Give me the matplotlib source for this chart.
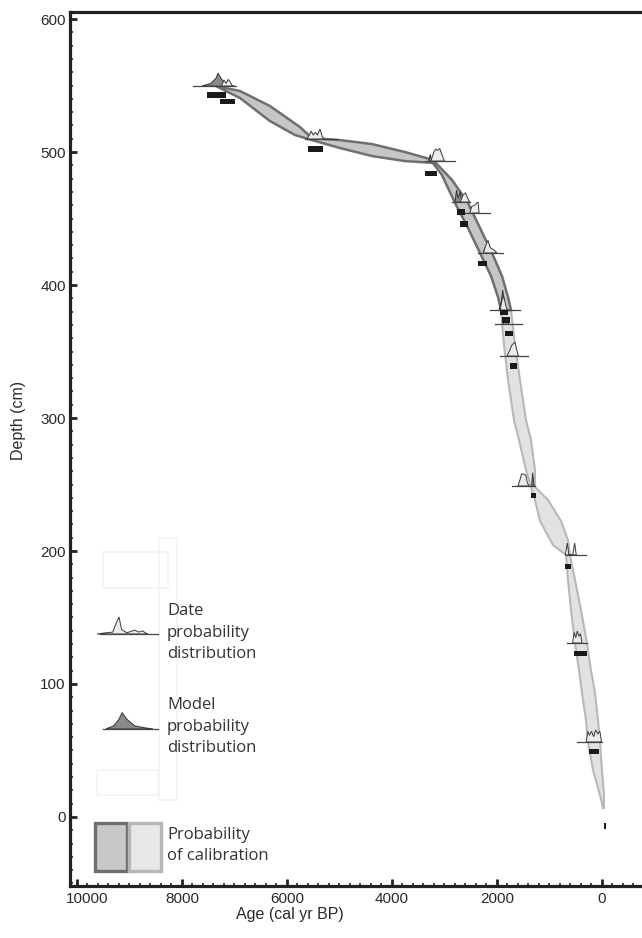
import matplotlib.pyplot as plt
import matplotlib.transforms as mtransforms
from matplotlib.patches import Rectangle
from matplotlib.ticker import MultipleLocator

plt.rcParams['font.family'] = ['Liberation Sans', 'DejaVu Sans']

# age-depth model envelope, older-side and younger-side edges (cal yr BP, cm)
dark_old_age = [7352, 6895, 6324, 5752, 5524, 4991, 4381, 3752, 3276, 3048, 2800, 2552, 2324, 2114, 1981, 1924]
dark_old_depth = [549.6, 545.9, 534.6, 518.8, 510.5, 509.0, 506.0, 500.0, 494.7, 482.7, 461.7, 442.9, 424.1, 406.8, 391.0, 381.2]
dark_young_age = [7352, 6895, 6324, 5848, 5524, 4991, 4381, 3752, 3162, 2857, 2552, 2324, 2095, 1905, 1790, 1733]
dark_young_depth = [549.6, 540.6, 523.3, 512.8, 509.0, 503.0, 497.0, 493.2, 491.7, 479.0, 461.7, 442.9, 424.1, 406.8, 391.0, 381.2]

light_old_age = [1924, 1867, 1790, 1676, 1581, 1448, 1352, 1276, 1181, 933, 686, 648, 590, 514, 438, 381, 305, 267, 171, 38, -19]
light_old_depth = [381.2, 354.9, 328.6, 298.5, 283.5, 260.9, 248.1, 238.4, 222.6, 204.5, 197.0, 178.2, 155.6, 130.8, 110.5, 93.2, 72.9, 56.4, 35.3, 16.5, 6.8]
light_young_age = [1733, 1657, 1562, 1448, 1352, 1276, 1276, 1029, 781, 648, 610, 514, 400, 286, 210, 133, 76, 38, 0, -38, -38]
light_young_depth = [381.2, 354.9, 328.6, 298.5, 283.5, 260.9, 248.1, 238.4, 222.6, 208.3, 197.0, 178.2, 155.6, 130.8, 110.5, 93.2, 72.9, 56.4, 35.3, 16.5, 6.8]

# radiocarbon dates: depth and extent of the baseline
date_depth = [549.6, 509.8, 493.2, 462.4, 454.1, 424.1, 381.2, 370.7, 346.6, 248.9, 197.0, 130.8, 56.4]
date_old = [7790, 5657, 3371, 2857, 2648, 2362, 2133, 2038, 1943, 1714, 686, 667, 476]
date_young = [6971, 5048, 2800, 2514, 2133, 1886, 1562, 1524, 1410, 1276, 305, 286, 0]

# date probability distributions (age, height in cm)
date_pdf_age = [
    [7250, 7200, 7160, 7120, 7080, 7040],
    [5620, 5560, 5543, 5500, 5460, 5420, 5372, 5330, 5300],
    [3260, 3200, 3170, 3130, 3090, 3050, 3000],
    [2700, 2650, 2600, 2560, 2520],
    [2520, 2480, 2420, 2380, 2360, 2340],
    [2260, 2210, 2172, 2130, 2090, 2050, 2000],
    [1940, 1900, 1870, 1830, 1800],
    [1880, 1850, 1810, 1780],
    [1810, 1760, 1720, 1657, 1620, 1590],
    [1600, 1560, 1530, 1490, 1450, 1420, 1380],
    [700, 660, 630, 560, 520, 490],
    [560, 530, 500, 470, 440, 410, 380],
    [300, 270, 240, 200, 160, 120, 80, 40, 10],
]
date_pdf_h = [
    [0, 4.5, 2, 5, 3, 0],
    [0, 4, 6, 3, 5, 3, 7.5, 2, 0],
    [0, 7, 9, 8, 9.5, 5, 0],
    [0, 5, 7, 3, 0],
    [0, 5, 6, 8, 8, 0],
    [0, 6, 9.5, 4, 3, 2, 0],
    [0, 8, 10, 3, 0],
    [0, 4, 5, 0],
    [0, 4, 8, 10.5, 4, 0],
    [0, 5, 9, 9, 8, 2, 0],
    [0, 9, 0, 0, 9, 0],
    [0, 8, 4, 9, 5, 7, 0],
    [0, 8, 5, 8, 4, 9, 6, 8, 0],
]

# model probability distributions (index of date, age, height)
model_idx = [0, 1, 2, 3, 5, 6, 8, 9]
model_pdf_age = [
    [7620, 7450, 7350, 7314, 7260, 7200, 7100, 7000],
    [5560, 5500, 5450, 5400, 5350],
    [3300, 3270, 3240],
    [2800, 2770, 2740, 2700, 2670],
    [2260, 2230, 2200],
    [1960, 1920, 1890, 1860, 1820],
    [1700, 1670, 1640],
    [1340, 1320, 1300, 1290],
]
model_pdf_h = [
    [0, 2, 6, 9.8, 6, 3, 1, 0],
    [0, 3, 4, 2, 0],
    [0, 5, 0],
    [0, 9, 3, 8, 0],
    [0, 4, 0],
    [0, 6, 15, 5, 0],
    [0, 7, 0],
    [0, 10, 2, 0],
]

# sample markers
bar_depth = [542.9, 537.7, 502.3, 484.2, 454.9, 445.9, 416.5, 379.0, 373.7, 363.2, 339.1, 241.4, 188.7, 122.6, 48.9, -6.8]
bar_old = [7524, 7276, 5600, 3371, 2762, 2705, 2362, 1943, 1905, 1848, 1752, 1352, 705, 533, 248, -30]
bar_young = [7162, 6990, 5314, 3143, 2610, 2552, 2190, 1790, 1752, 1695, 1619, 1257, 590, 286, 57, -85]

fig = plt.figure(figsize=(6.42, 9.38), dpi=100)
ax = fig.add_axes([70 / 642, 52 / 938, 1 - 70 / 642, 874 / 938])

# faint ghost boxes left in the figure
for x0, x1, y0, y1 in [(9505, 8267, 172.2, 199.3), (8438, 8095, 12.8, 209.8), (9619, 8457, 16.5, 35.3)]:
    ax.add_patch(Rectangle((x0, y0), x1 - x0, y1 - y0, fill=False, ec='#f3f3f3', lw=1.2, zorder=0))

ax.fill(dark_old_age + dark_young_age[::-1], dark_old_depth + dark_young_depth[::-1],
        fc='#c6c6c6', ec='#6f6f6f', lw=1.8, zorder=2)
ax.fill(light_old_age + light_young_age[::-1], light_old_depth + light_young_depth[::-1],
        fc='#e2e2e2', ec='#b8b8b8', lw=1.5, zorder=1)

for d, a0, a1, ages, hs in zip(date_depth, date_old, date_young, date_pdf_age, date_pdf_h):
    ax.fill(ages, [d + h for h in hs], fc='#ececec', ec='#3a3a3a', lw=0.7, zorder=4)
    ax.plot([a0, a1], [d, d], color='#444444', lw=0.9, zorder=5)

for i, ages, hs in zip(model_idx, model_pdf_age, model_pdf_h):
    d = date_depth[i]
    ax.fill(ages, [d + h for h in hs], fc='#8a8a8a', ec='#333333', lw=0.7, zorder=3)

ax.barh(bar_depth, [y - o for o, y in zip(bar_old, bar_young)], left=bar_old,
        height=3.8, color='#1a1a1a', zorder=6)

# legend (va='baseline' anchors the last line of each block)
leg_font = dict(family='Open Sans', fontsize=12, color='#333333', linespacing=1.45, va='baseline', ha='left')
ax.fill([9620, 9450, 9320, 9250, 9200, 9150, 9050, 8900, 8820, 8750, 8700, 8650],
        [137.6, 138.5, 139, 146, 150.4, 141, 138.5, 140.5, 139, 140, 138.5, 137.6],
        fc='#ececec', ec='#3a3a3a', lw=0.7)
ax.plot([9562, 8457], [137.6, 137.6], color='#444444', lw=0.9)
ax.text(8286, 119.5, 'Date\nprobability\ndistribution', **leg_font)

ax.fill([9450, 9300, 9200, 9140, 9050, 8900, 8700, 8550],
        [66.2, 68.5, 73.5, 78.5, 73.5, 68.5, 67, 66.2],
        fc='#8a8a8a', ec='#333333', lw=0.7)
ax.plot([9505, 8457], [66.2, 66.2], color='#444444', lw=0.9)
ax.text(8286, 48.9, 'Model\nprobability\ndistribution', **leg_font)

ax.add_patch(Rectangle((9650, -40.6), -600, 36, fc='#c8c8c8', ec='#6e6e6e', lw=2.4))
ax.add_patch(Rectangle((9000, -40.6), -600, 36, fc='#e8e8e8', ec='#b6b6b6', lw=2.4))
ax.text(8286, -32.3, 'Probability\nof calibration', **leg_font)

ax.set_xlim(10133, -762)
ax.set_ylim(-51.9, 605.3)
ax.xaxis.set_major_locator(MultipleLocator(2000))
ax.xaxis.set_minor_locator(MultipleLocator(200))
ax.yaxis.set_major_locator(MultipleLocator(100))
ax.yaxis.set_minor_locator(MultipleLocator(10))
ax.tick_params(which='both', direction='in', color='#222222', labelsize=11, labelcolor='#2a2a2a')
ax.tick_params(which='major', length=5, width=2)
ax.tick_params(which='minor', length=2.5, width=1.2)
ax.tick_params(axis='y', pad=3)
ax.tick_params(axis='x', pad=4)
for side in ['left', 'bottom', 'top']:
    ax.spines[side].set_linewidth(2.3)
    ax.spines[side].set_color('#222222')
ax.spines['right'].set_visible(False)

ax.set_xlabel('Age (cal yr BP)', fontsize=11.5, color='#2a2a2a')
ax.set_ylabel('Depth (cm)', fontsize=11.5, color='#2a2a2a')
ax.xaxis.set_label_coords(220 / 572, -21 / 874)
ax.yaxis.set_label_coords(-44 / 572, (886 - 420) / 874)

# the leftmost age label sits a little inward in the original
fig.canvas.draw()
for tick in ax.xaxis.get_major_ticks():
    if abs(tick.get_loc() - 10000) < 1:
        tick.label1.set_transform(tick.label1.get_transform()
                                  + mtransforms.ScaledTranslation(10 / 100, 0, fig.dpi_scale_trans))

fig.savefig('out.png', dpi=100)
